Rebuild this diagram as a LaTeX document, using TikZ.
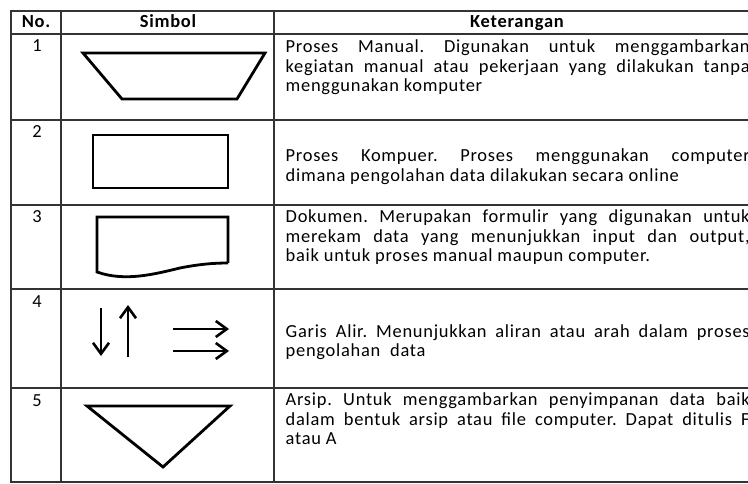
\documentclass[tikz,border=0pt]{standalone}
\usepackage{fontspec}
\setmainfont{Carlito}[LetterSpace=4]
\usetikzlibrary{arrows.meta}
\frenchspacing
\newcommand{\fullline}[1]{\makebox[464bp][s]{#1}}
\begin{document}
\begin{tikzpicture}[x=1bp,y=-1bp,
  rule/.style={draw=black!80, line width=1.2bp},
  sym/.style={draw=black, line width=2.8bp, line join=miter},
  txt/.style={anchor=base west, inner sep=0pt, font=\fontsize{18.5}{19.7}\selectfont},
  hd/.style={anchor=base, inner sep=0pt, font=\fontsize{18.5}{19.7}\selectfont\bfseries},
  num/.style={anchor=base, inner sep=0pt, font=\fontsize{18.5}{19.7}\selectfont},
  flow/.style={line width=2.6bp, -{Straight Barb[length=11bp,width=16bp]}}]
\useasboundingbox (0,0) rectangle (748,484);
\clip (0,0) rectangle (748,484);

% table rules
\draw[rule] (760,11) -- (11,11) -- (11,482) -- (760,482);
\draw[rule] (61,11) -- (61,482);
\draw[rule] (274,11) -- (274,482);
\foreach \yy in {34,120,205,289,388} \draw[rule] (11,\yy) -- (760,\yy);

% header
\node[hd] (hno) at (36,28) {No.};
\node[hd] (hsym) at (168,28) {Simbol};
\node[hd] (hket) at (517,28) {Keterangan};

% row numbers
\node[num] (n1) at (37,52) {1};
\node[num] (n2) at (37,138) {2};
\node[num] (n3) at (37,223) {3};
\node[num] (n4) at (37,307) {4};
\node[num] (n5) at (37,406) {5};

% descriptions
\node[txt] (r1a) at (285.5,52.5) {\fullline{Proses Manual. Digunakan untuk menggambarkan}};
\node[txt] (r1b) at (285.5,72.2) {\fullline{kegiatan manual atau pekerjaan yang dilakukan tanpa}};
\node[txt] (r1c) at (285.5,91.9) {menggunakan komputer};

\node[txt] (r2a) at (285.5,162) {\fullline{Proses Kompuer. Proses menggunakan computer}};
\node[txt] (r2b) at (285.5,181.7) {dimana pengolahan data dilakukan secara online};

\node[txt] (r3a) at (285.5,222.5) {\fullline{Dokumen. Merupakan formulir yang digunakan untuk}};
\node[txt] (r3b) at (285.5,242.2) {\fullline{merekam data yang menunjukkan input dan output,}};
\node[txt] (r3c) at (285.5,261.9) {baik untuk proses manual maupun computer.};

\node[txt] (r4a) at (285.5,337) {\fullline{Garis Alir. Menunjukkan aliran atau arah dalam proses}};
\node[txt] (r4b) at (285.5,356.7) {pengolahan\ \ data};

\node[txt] (r5a) at (285.5,405.5) {\fullline{Arsip. Untuk menggambarkan penyimpanan data baik}};
\node[txt] (r5b) at (285.5,425.2) {\fullline{dalam bentuk arsip atau file computer. Dapat ditulis F}};
\node[txt] (r5c) at (285.5,444.9) {atau A};

% symbol 1: manual process
\draw[sym] (83,53) -- (265,53) -- (237,99) -- (122,99) -- cycle;
% symbol 2: computer process
\draw[sym] (93,135) rectangle (228,188);
% symbol 3: document
\draw[sym] (228,263) -- (228,217) -- (97,217) -- (97,272)
  .. controls (125,282) and (155,274) .. (180,268)
  .. controls (200,264) and (215,263) .. (228,263);
% symbol 4: flow lines
\coordinate (d1) at (101,308);
\coordinate (d2) at (101,356);
\coordinate (u1) at (128,357);
\coordinate (u2) at (128,305);
\coordinate (h1) at (173,329);
\coordinate (h2) at (229,329);
\coordinate (k1) at (173,351);
\coordinate (k2) at (229,351);
\draw[flow] (d1) -- (d2);
\draw[flow] (u1) -- (u2);
\draw[flow] (h1) -- (h2);
\draw[flow] (k1) -- (k2);
% symbol 5: archive
\draw[sym] (87,406) -- (230,406) -- (163,467) -- cycle;
\end{tikzpicture}
\end{document}
